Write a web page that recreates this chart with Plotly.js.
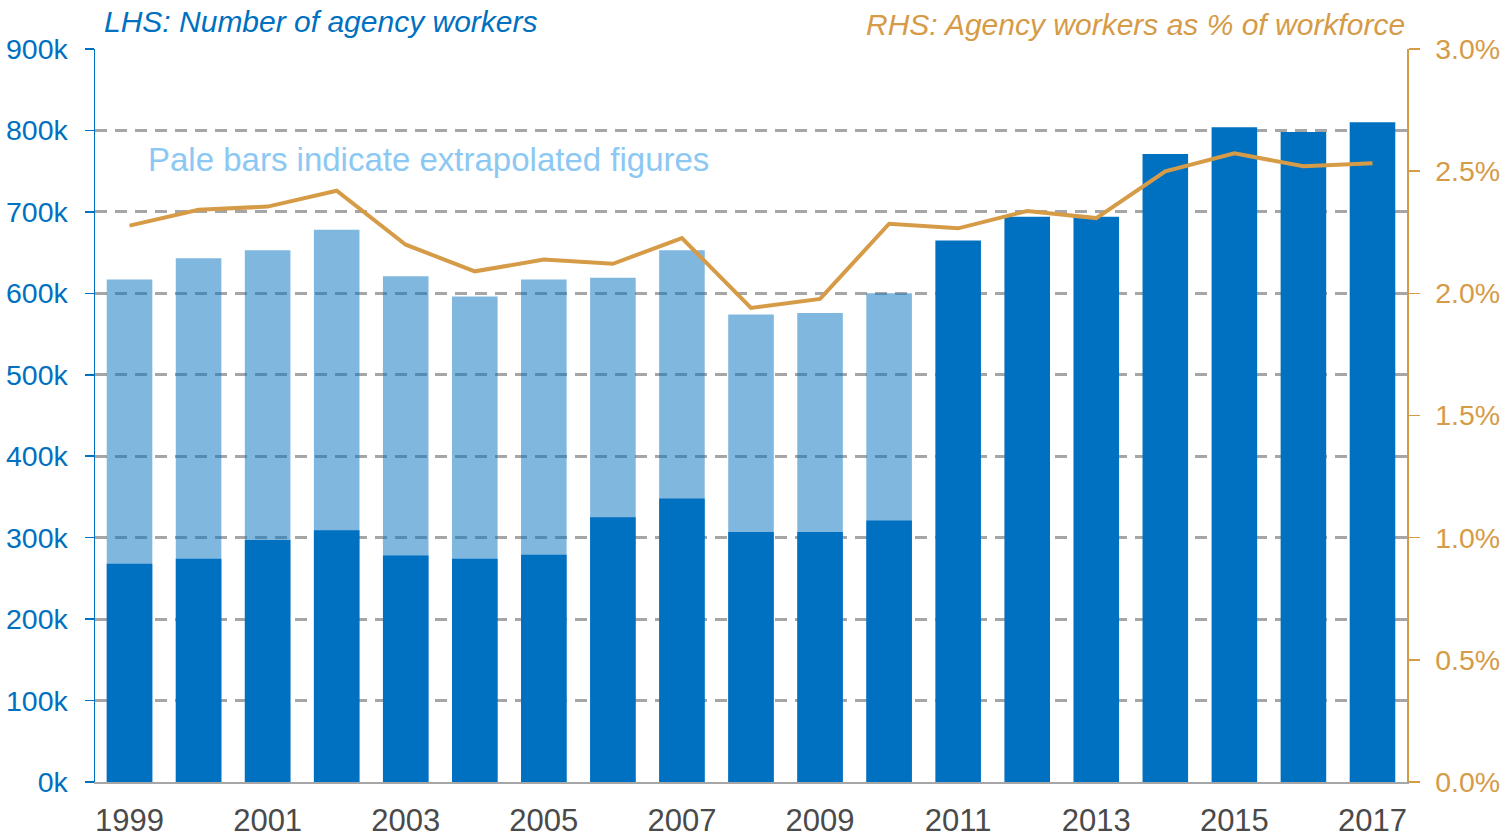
<!DOCTYPE html>
<html>
<head>
<meta charset="utf-8">
<script src="https://cdn.plot.ly/plotly-3.0.1.min.js"></script>
<style>
html,body{margin:0;padding:0;background:#fff;}
#chart{width:1505px;height:838px;}
</style>
</head>
<body>
<div id="chart"></div>
<script>
// Years
const years = [1999,2000,2001,2002,2003,2004,2005,2006,2007,2008,2009,2010,2011,2012,2013,2014,2015,2016,2017];
// Measured number of agency workers (thousands) - dark bars
const measuredWorkers = [268,274,297,309,278,274,279,325,348,307,307,321,665,694,694,771,804,798,810];
// Extrapolated total (thousands) - pale bars (only 1999-2010)
const extrapolatedTotal = [617,643,653,678,621,596,617,619,653,574,576,600,null,null,null,null,null,null,null];
// Agency workers as share of workforce (fraction)
const shareOfWorkforce = [0.02277,0.02342,0.02355,0.02420,0.02199,0.02090,0.02138,0.02121,0.02226,0.01940,0.01977,0.02285,0.02266,0.02337,0.02308,0.02499,0.02573,0.02520,0.02532];
// Tick labels
const xTickYears = [1999,2001,2003,2005,2007,2009,2011,2013,2015,2017];
const leftTicks = [0,100,200,300,400,500,600,700,800,900];
const leftTickText = ['0k','100k','200k','300k','400k','500k','600k','700k','800k','900k'];
const rightTicks = [0,0.005,0.01,0.015,0.02,0.025,0.03];
const rightTickText = ['0.0%','0.5%','1.0%','1.5%','2.0%','2.5%','3.0%'];

const FONT = '"Liberation Sans", Arial, sans-serif';
const BLUE = '#0070C0';
const GOLD = '#D69B47';

const traces = [
  {
    type: 'bar', x: years, y: extrapolatedTotal, name: 'Extrapolated',
    marker: {color: 'rgba(0,112,192,0.5)', line: {width: 0}},
    hoverinfo: 'x+y'
  },
  {
    type: 'bar', x: years, y: measuredWorkers, name: 'Measured',
    marker: {color: BLUE, line: {width: 0}},
    hoverinfo: 'x+y'
  },
  {
    type: 'scatter', mode: 'lines', x: years, y: shareOfWorkforce, yaxis: 'y2',
    name: 'Share', line: {color: GOLD, width: 4}
  }
];

const layout = {
  width: 1505, height: 838,
  margin: {l: 95, r: 98, t: 49, b: 56, pad: 0},
  paper_bgcolor: '#fff', plot_bgcolor: '#fff',
  showlegend: false,
  barmode: 'overlay',
  bargap: 0.34,
  font: {family: FONT},
  xaxis: {
    range: [1998.5, 2017.5],
    tickvals: xTickYears,
    ticktext: xTickYears.map(String),
    ticks: '', showgrid: false, zeroline: false,
    showline: true, linecolor: '#A6A6A6', linewidth: 2,
    tickfont: {family: FONT, size: 31, color: '#4A4A4A'},
    ticklabelstandoff: 10,
    fixedrange: true
  },
  yaxis: {
    range: [0, 900],
    tickvals: leftTicks,
    ticktext: leftTickText,
    showline: true, linecolor: BLUE, linewidth: 1.5,
    ticks: 'outside', ticklen: 9, tickwidth: 1.5, tickcolor: BLUE,
    tickfont: {family: FONT, size: 28.5, color: BLUE},
    ticklabelstandoff: 11,
    showgrid: true, gridcolor: '#A6A6A6', gridwidth: 3, griddash: '12px,8px',
    zeroline: false,
    fixedrange: true
  },
  yaxis2: {
    overlaying: 'y', side: 'right',
    range: [0, 0.03],
    tickvals: rightTicks,
    ticktext: rightTickText,
    showline: true, linecolor: GOLD, linewidth: 1.5,
    ticks: 'outside', ticklen: 11, tickwidth: 1.5, tickcolor: GOLD,
    tickfont: {family: FONT, size: 28.5, color: GOLD},
    ticklabelstandoff: 10,
    showgrid: false, zeroline: false,
    fixedrange: true
  },
  annotations: [
    {
      text: 'LHS: Number of agency workers', xref: 'paper', yref: 'paper',
      x: 0.005, y: 1.037, xanchor: 'left', yanchor: 'middle', showarrow: false,
      font: {family: FONT, size: 30, color: BLUE, style: 'italic'}
    },
    {
      text: 'RHS: Agency workers as % of workforce', xref: 'paper', yref: 'paper',
      x: 1.0, y: 1.034, xanchor: 'right', yanchor: 'middle', showarrow: false,
      font: {family: FONT, size: 30, color: GOLD, style: 'italic'}
    },
    {
      text: 'Pale bars indicate extrapolated figures', xref: 'paper', yref: 'paper',
      x: 0.039, y: 0.849, xanchor: 'left', yanchor: 'middle', showarrow: false,
      font: {family: FONT, size: 33, color: '#8CC8F4'}
    }
  ]
};

Plotly.newPlot('chart', traces, layout, {displayModeBar: false, staticPlot: true});
</script>
</body>
</html>
